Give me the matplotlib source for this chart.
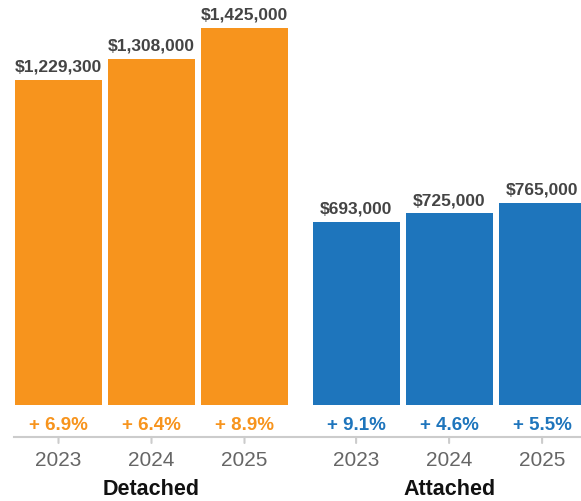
import matplotlib
matplotlib.use("Agg")
import matplotlib.pyplot as plt

plt.rcParams['font.family'] = ['Liberation Sans', 'DejaVu Sans']

groups = ["Detached", "Attached"]
years = ["2023", "2024", "2025"]
detached_values = [1229300, 1308000, 1425000]
attached_values = [693000, 725000, 765000]
detached_changes = ["+ 6.9%", "+ 6.4%", "+ 8.9%"]
attached_changes = ["+ 9.1%", "+ 4.6%", "+ 5.5%"]

ORANGE = "#F7941D"
BLUE = "#1E75BC"
W, H = 581, 502

fig = plt.figure(figsize=(W / 100, H / 100), dpi=100)
ax = fig.add_axes([0, 0, 1, 1])
ax.set_axis_off()

unit = 93.0
x0_px = 58.5
group_gap = 0.2
bar_w = 0.935

series = [(detached_values, detached_changes, ORANGE), (attached_values, attached_changes, BLUE)]

# y scale: baseline at px 406 from top, max value at px 29
base_px = 406
top_px = 29
vmax = max(detached_values)
per_px = vmax / (base_px - top_px)
ax.set_ylim(-(H - base_px) * per_px, vmax + top_px * per_px)
ax.set_xlim(-x0_px / unit, (W - x0_px) / unit)

axis_y = H - 438
for gi, (vals, chg, col) in enumerate(series):
    xs = [gi * (len(years) + group_gap) + i for i in range(len(years))]
    ax.bar(xs, vals, width=bar_w, color=col, linewidth=0)
    for x, v, c, yr in zip(xs, vals, chg, years):
        ax.annotate(f"${v:,.0f}", xy=(x, v), xytext=(0, 6), textcoords="offset pixels",
                    ha="center", va="bottom", fontsize=12.5, fontweight="bold", color="#444444")
        ax.annotate(c, xy=(x, H - 426), xycoords=("data", "figure pixels"),
                    ha="center", va="center", fontsize=13.5, fontweight="bold", color=col)
        ax.annotate(yr, xy=(x, H - 461), xycoords=("data", "figure pixels"),
                    ha="center", va="center", fontsize=15, color="#666666")
        ax.annotate("", xy=(x, axis_y), xytext=(x, axis_y - 6),
                    xycoords=("data", "figure pixels"), textcoords=("data", "figure pixels"),
                    arrowprops=dict(arrowstyle="-", color="#cccccc", lw=1.5, shrinkA=0, shrinkB=0))
    ax.annotate(groups[gi], xy=(xs[1], H - 490), xycoords=("data", "figure pixels"),
                ha="center", va="center", fontsize=15.5, fontweight="bold", color="#111111")

fig.add_artist(plt.Line2D([14 / W, 1], [axis_y / H, axis_y / H], color="#cccccc", lw=1.5,
                          transform=fig.transFigure))

fig.savefig("out.png", dpi=100)
